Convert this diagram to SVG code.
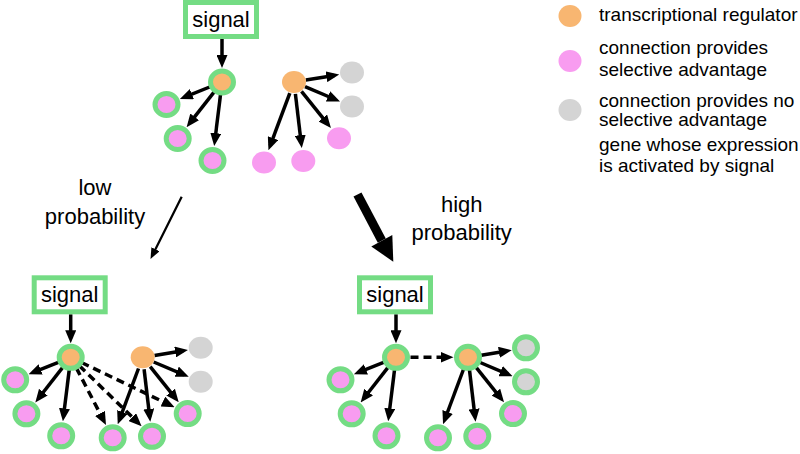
<svg xmlns="http://www.w3.org/2000/svg" width="800" height="454" viewBox="0 0 800 454">
<style>
text{font-family:"Liberation Sans",Arial,Helvetica,sans-serif;fill:#000}
.lbl{font-size:22px;text-anchor:middle}
.leg{font-size:19px}
.box{fill:#fff;stroke:#74dc84;stroke-width:5}
.ring{stroke:#74dc84;stroke-width:5}
.reg{fill:#f8b671}
.pink{fill:#f89cf0}
.gray{fill:#d4d4d4}
.edge{stroke:#000;stroke-width:3.5;fill:none;marker-end:url(#ah)}
.dash{stroke-dasharray:8 5}
</style>
<defs>
<marker id="ah" markerUnits="userSpaceOnUse" markerWidth="13" markerHeight="11" refX="8" refY="5.5" orient="auto">
<path d="M0,0 L13,5.5 L0,11 z" fill="#000"/>
</marker>
<marker id="ahThin" markerUnits="userSpaceOnUse" markerWidth="11" markerHeight="9" refX="7" refY="4.5" orient="auto">
<path d="M0,0 L11,4.5 L0,9 z" fill="#000"/>
</marker>
</defs>

<!-- Top panel -->
<g id="panel-top" transform="translate(222,82)">
<g id="top-connectors">
<line class="edge" x1="0" y1="-43" x2="0" y2="-19"/>
<line class="edge" x1="-11.1" y1="4.5" x2="-37.5" y2="15.1"/>
<line class="edge" x1="-7.4" y1="9.4" x2="-32.3" y2="41.2"/>
<line class="edge" x1="-1.4" y1="11.9" x2="-7.2" y2="59.1"/>
<line class="edge" x1="83.8" y1="-1.9" x2="112.3" y2="-6.6"/>
<line class="edge" x1="83" y1="4.7" x2="113.4" y2="17.5"/>
<line class="edge" x1="79.5" y1="9.4" x2="105.8" y2="42.2"/>
<line class="edge" x1="73.4" y1="11.9" x2="79.2" y2="61.1"/>
<line class="edge" x1="67.8" y1="11.2" x2="48.2" y2="63.6"/>
</g>
<g id="top-signal"><rect class="box" x="-36.5" y="-79.5" width="71" height="34"/><text class="lbl" x="-1" y="-55">signal</text></g>
<g id="top-reg1"><ellipse class="reg ring" cx="0" cy="0" rx="11.5" ry="11"/></g>
<g id="top-g1"><ellipse class="pink ring" cx="-55.5" cy="22.5" rx="11.5" ry="11"/></g>
<g id="top-g2"><ellipse class="pink ring" cx="-44.3" cy="56.5" rx="11.5" ry="11"/></g>
<g id="top-g3"><ellipse class="pink ring" cx="-9.5" cy="78.5" rx="11.5" ry="11"/></g>
<g id="top-reg2"><ellipse class="reg" cx="72" cy="0" rx="12" ry="11"/></g>
<g id="top-n1"><ellipse class="gray" cx="130" cy="-9.5" rx="12" ry="11"/></g>
<g id="top-n2"><ellipse class="gray" cx="130" cy="24.5" rx="12" ry="11"/></g>
<g id="top-p1"><ellipse class="pink" cx="117" cy="56.3" rx="12" ry="11"/></g>
<g id="top-p2"><ellipse class="pink" cx="81.3" cy="79" rx="12" ry="11"/></g>
<g id="top-p3"><ellipse class="pink" cx="42" cy="80.5" rx="12" ry="11"/></g>
</g>

<!-- Transition arrows and labels -->
<g id="transitions">
<line x1="181.7" y1="196.7" x2="152.3" y2="255.5" stroke="#000" stroke-width="2.2" marker-end="url(#ahThin)"/>
<line x1="357.5" y1="194.5" x2="381.8" y2="240.7" stroke="#000" stroke-width="9"/>
<polygon points="393.3,261.7 392.3,234.9 371.3,246.5" fill="#000"/>
</g>
<g id="label-low"><text class="lbl" x="95" y="195">low</text><text class="lbl" x="95" y="223.5">probability</text></g>
<g id="label-high"><text class="lbl" x="461.7" y="211.7">high</text><text class="lbl" x="461.7" y="240">probability</text></g>

<!-- Bottom-left panel -->
<g id="panel-bl" transform="translate(70.7,357.3)">
<g id="bl-connectors">
<line class="edge" x1="0" y1="-43" x2="0" y2="-19"/>
<line class="edge" x1="-11.1" y1="4.5" x2="-37.5" y2="15.1"/>
<line class="edge" x1="-7.4" y1="9.4" x2="-32.3" y2="41.2"/>
<line class="edge" x1="-1.4" y1="11.9" x2="-7.2" y2="59.1"/>
<line class="edge" x1="83.8" y1="-1.9" x2="112.3" y2="-6.6"/>
<line class="edge" x1="83" y1="4.7" x2="113.4" y2="17.5"/>
<line class="edge" x1="79.5" y1="9.4" x2="104.9" y2="41.1"/>
<line class="edge" x1="73.4" y1="11.9" x2="79" y2="59.6"/>
<line class="edge" x1="67.8" y1="11.2" x2="48.8" y2="62.2"/>
<line class="edge dash" x1="5.6" y1="10.6" x2="33" y2="63.2"/>
<line class="edge dash" x1="8.6" y1="8.4" x2="67.3" y2="65.4"/>
<line class="edge dash" x1="10.8" y1="5.2" x2="99.4" y2="47.8"/>
</g>
<g id="bl-signal"><rect class="box" x="-36.5" y="-79.5" width="71" height="34"/><text class="lbl" x="-1" y="-55">signal</text></g>
<g id="bl-reg1"><ellipse class="reg ring" cx="0" cy="0" rx="11.5" ry="11"/></g>
<g id="bl-g1"><ellipse class="pink ring" cx="-55.5" cy="22.5" rx="11.5" ry="11"/></g>
<g id="bl-g2"><ellipse class="pink ring" cx="-44.3" cy="56.5" rx="11.5" ry="11"/></g>
<g id="bl-g3"><ellipse class="pink ring" cx="-9.5" cy="78.5" rx="11.5" ry="11"/></g>
<g id="bl-reg2"><ellipse class="reg" cx="72" cy="0" rx="12" ry="11"/></g>
<g id="bl-n1"><ellipse class="gray" cx="130" cy="-9.5" rx="12" ry="11"/></g>
<g id="bl-n2"><ellipse class="gray" cx="130" cy="24.5" rx="12" ry="11"/></g>
<g id="bl-p1"><ellipse class="pink ring" cx="117" cy="56.3" rx="11.5" ry="11"/></g>
<g id="bl-p2"><ellipse class="pink ring" cx="81.3" cy="79" rx="11.5" ry="11"/></g>
<g id="bl-p3"><ellipse class="pink ring" cx="42" cy="80.5" rx="11.5" ry="11"/></g>
</g>

<!-- Bottom-right panel -->
<g id="panel-br" transform="translate(396,357.3)">
<g id="br-connectors">
<line class="edge" x1="0" y1="-43" x2="0" y2="-19"/>
<line class="edge" x1="-11.1" y1="4.5" x2="-37.5" y2="15.1"/>
<line class="edge" x1="-7.4" y1="9.4" x2="-32.3" y2="41.2"/>
<line class="edge" x1="-1.4" y1="11.9" x2="-7.2" y2="59.1"/>
<line class="edge dash" x1="14.5" y1="0" x2="52.5" y2="0"/>
<line class="edge" x1="83.8" y1="-1.9" x2="110.8" y2="-6.3"/>
<line class="edge" x1="83" y1="4.7" x2="112" y2="17"/>
<line class="edge" x1="79.5" y1="9.4" x2="104.9" y2="41.1"/>
<line class="edge" x1="73.4" y1="11.9" x2="79" y2="59.6"/>
<line class="edge" x1="67.8" y1="11.2" x2="48.8" y2="62.2"/>
</g>
<g id="br-signal"><rect class="box" x="-36.5" y="-79.5" width="71" height="34"/><text class="lbl" x="-1" y="-55">signal</text></g>
<g id="br-reg1"><ellipse class="reg ring" cx="0" cy="0" rx="11.5" ry="11"/></g>
<g id="br-g1"><ellipse class="pink ring" cx="-55.5" cy="22.5" rx="11.5" ry="11"/></g>
<g id="br-g2"><ellipse class="pink ring" cx="-44.3" cy="56.5" rx="11.5" ry="11"/></g>
<g id="br-g3"><ellipse class="pink ring" cx="-9.5" cy="78.5" rx="11.5" ry="11"/></g>
<g id="br-reg2"><ellipse class="reg ring" cx="72" cy="0" rx="11.5" ry="11"/></g>
<g id="br-n1"><ellipse class="gray ring" cx="130" cy="-9.5" rx="11.5" ry="11"/></g>
<g id="br-n2"><ellipse class="gray ring" cx="130" cy="24.5" rx="11.5" ry="11"/></g>
<g id="br-p1"><ellipse class="pink ring" cx="117" cy="56.3" rx="11.5" ry="11"/></g>
<g id="br-p2"><ellipse class="pink ring" cx="81.3" cy="79" rx="11.5" ry="11"/></g>
<g id="br-p3"><ellipse class="pink ring" cx="42" cy="80.5" rx="11.5" ry="11"/></g>
</g>

<!-- Legend -->
<g id="legend">
<g id="leg-reg"><ellipse class="reg" cx="570" cy="16" rx="11.5" ry="11"/><text class="leg" x="599" y="21">transcriptional regulator</text></g>
<g id="leg-adv"><ellipse class="pink" cx="570" cy="61" rx="11.5" ry="11"/><text class="leg" x="599" y="54">connection provides</text><text class="leg" x="599" y="75.5">selective advantage</text></g>
<g id="leg-noadv"><ellipse class="gray" cx="570" cy="110" rx="11.5" ry="11"/><text class="leg" x="599" y="107">connection provides no</text><text class="leg" x="599" y="126">selective advantage</text></g>
<g id="leg-gene"><text class="leg" x="599" y="151">gene whose expression</text><text class="leg" x="599" y="172">is activated by signal</text></g>
</g>
</svg>
